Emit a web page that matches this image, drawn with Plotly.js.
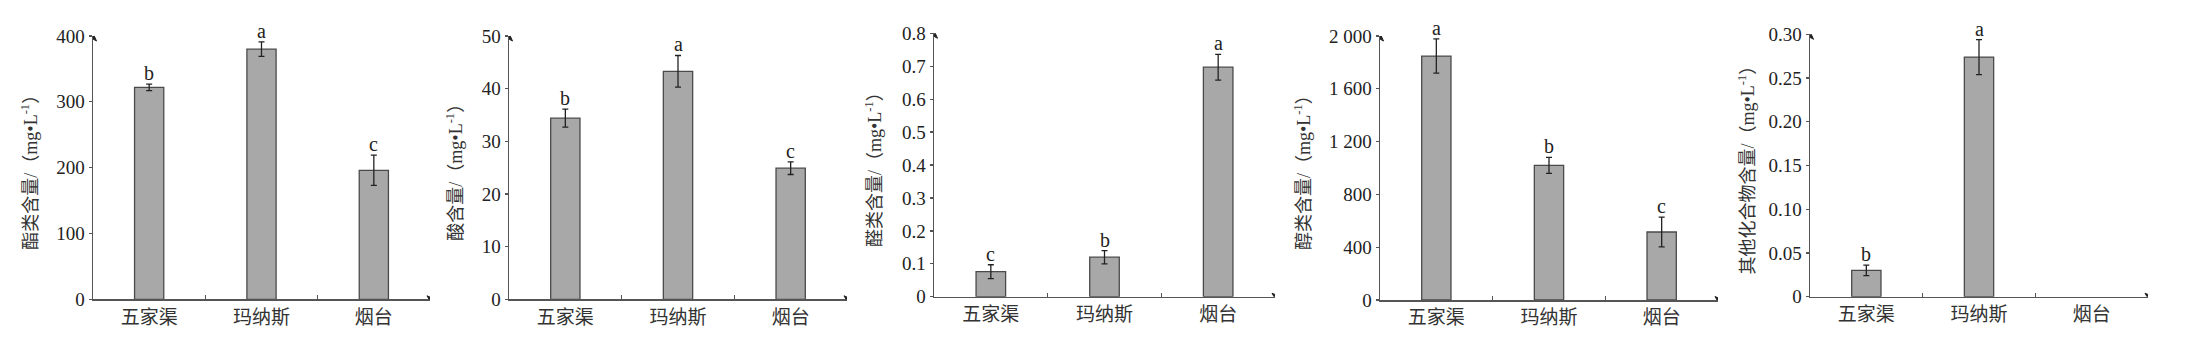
<!DOCTYPE html>
<html>
<head>
<meta charset="utf-8">
<script src="https://cdn.plot.ly/plotly-3.0.1.min.js"></script>
<style>html,body{margin:0;padding:0;background:#fff;}#chart{width:2187px;height:356px;}</style>
</head>
<body>
<div id="chart"></div>
<script>
// ---- data ----
const categories = ["五家渠", "玛纳斯", "烟台"];

const esterValues = [322, 380, 196];
const esterErrors = [5, 11, 23];
const esterLetters = ["b", "a", "c"];

const acidValues = [34.4, 43.3, 24.9];
const acidErrors = [1.7, 3.0, 1.2];
const acidLetters = ["b", "a", "c"];

const aldehydeValues = [0.076, 0.12, 0.697];
const aldehydeErrors = [0.021, 0.02, 0.039];
const aldehydeLetters = ["c", "b", "a"];

const alcoholValues = [1848, 1020, 515];
const alcoholErrors = [130, 60, 113];
const alcoholLetters = ["a", "b", "c"];

const otherValues = [0.030, 0.274, null];
const otherErrors = [0.006, 0.02, null];
const otherLetters = ["b", "a", ""];

const yTitles = [
  "酯类含量/（mg•L<sup>-1</sup>）",
  "酸含量/（mg•L<sup>-1</sup>）",
  "醛类含量/（mg•L<sup>-1</sup>）",
  "醇类含量/（mg•L<sup>-1</sup>）",
  "其他化合物含量/（mg•L<sup>-1</sup>）"
];
const yTickVals = [
  [0, 100, 200, 300, 400],
  [0, 10, 20, 30, 40, 50],
  [0, 0.1, 0.2, 0.3, 0.4, 0.5, 0.6, 0.7, 0.8],
  [0, 400, 800, 1200, 1600, 2000],
  [0, 0.05, 0.10, 0.15, 0.20, 0.25, 0.30]
];
const yTickText = [
  ["0", "100", "200", "300", "400"],
  ["0", "10", "20", "30", "40", "50"],
  ["0", "0.1", "0.2", "0.3", "0.4", "0.5", "0.6", "0.7", "0.8"],
  ["0", "400", "800", "1 200", "1 600", "2 000"],
  ["0", "0.05", "0.10", "0.15", "0.20", "0.25", "0.30"]
];
const yMax = [400, 50, 0.8, 2000, 0.30];

// ---- layout geometry (pixels in 2187x356) ----
const W = 2187, H = 356;
const panels = [
  {x0: 93, x1: 430, yb: 299.3, yt: 36, tx: 30},
  {x0: 509, x1: 847, yb: 299.3, yt: 36, tx: 455},
  {x0: 934, x1: 1275, yb: 296.7, yt: 33.3, tx: 873},
  {x0: 1380, x1: 1718, yb: 300, yt: 36, tx: 1302},
  {x0: 1810, x1: 2148, yb: 296.7, yt: 34.3, tx: 1747}
];

const series = [
  [esterValues, esterErrors, esterLetters],
  [acidValues, acidErrors, acidLetters],
  [aldehydeValues, aldehydeErrors, aldehydeLetters],
  [alcoholValues, alcoholErrors, alcoholLetters],
  [otherValues, otherErrors, otherLetters]
];

const serif = "'Liberation Serif', 'DejaVu Serif', serif";
const mixed = "'Liberation Serif', 'Noto Sans CJK SC', serif";
const axisColor = "#555";

const traces = [];
const layout = {
  width: W, height: H,
  margin: {l: 0, r: 0, t: 0, b: 0},
  paper_bgcolor: "#fff", plot_bgcolor: "#fff",
  showlegend: false,
  annotations: [],
  shapes: [],
  font: {family: serif, color: "#222", size: 19}
};

series.forEach((s, i) => {
  const n = i + 1;
  const xa = "x" + (n === 1 ? "" : n);
  const ya = "y" + (n === 1 ? "" : n);
  const p = panels[i];
  traces.push({
    type: "bar",
    x: categories,
    y: s[0],
    xaxis: xa, yaxis: ya,
    width: 0.26,
    marker: {color: "#a8a8a8", line: {color: "#4a4a4a", width: 1.3}},
    error_y: {type: "data", array: s[1], visible: true, color: "#222", thickness: 1.3, width: 3},
    hoverinfo: "skip"
  });
  const xKey = "xaxis" + (n === 1 ? "" : n);
  const yKey = "yaxis" + (n === 1 ? "" : n);
  layout[xKey] = {
    domain: [p.x0 / W, p.x1 / W],
    anchor: ya,
    type: "category",
    range: [-0.5, 2.5],
    showline: true, linecolor: axisColor, linewidth: 1.5,
    showgrid: false, zeroline: false,
    ticks: "inside", tickson: "boundaries", ticklen: 4, tickcolor: axisColor, tickwidth: 1.5,
    tickfont: {family: mixed, size: 19, color: "#333"},
    fixedrange: true
  };
  layout[yKey] = {
    domain: [(H - p.yb) / H, (H - p.yt) / H],
    anchor: xa,
    range: [0, yMax[i]],
    showline: true, linecolor: axisColor, linewidth: 1.5,
    showgrid: false, zeroline: false,
    ticks: "outside", ticklen: 3, tickcolor: axisColor, tickwidth: 1.3,
    tickvals: yTickVals[i], ticktext: yTickText[i],
    tickfont: {family: serif, size: 19, color: "#222"},
    automargin: false,
    fixedrange: true
  };
  // y axis title (rotated)
  layout.annotations.push({
    xref: "paper", yref: "paper",
    x: p.tx / W, y: (H - (p.yb + p.yt) / 2) / H,
    xanchor: "center", yanchor: "middle",
    textangle: -90, showarrow: false,
    text: yTitles[i],
    font: {family: mixed, size: 18, color: "#333"}
  });
  // significance letters
  categories.forEach((c, k) => {
    if (s[0][k] === null || !s[2][k]) return;
    layout.annotations.push({
      xref: xa, yref: ya, x: c, y: s[0][k] + s[1][k],
      text: s[2][k], showarrow: false, yanchor: "bottom", yshift: -2,
      font: {family: serif, size: 20, color: "#222"}
    });
  });
  // axis arrow heads (pixel-sized shapes anchored at axis ends)
  layout.shapes.push({
    type: "path", xref: xa, yref: ya,
    xsizemode: "pixel", ysizemode: "pixel", xanchor: -0.5, yanchor: yMax[i],
    path: "M -3.5 -5 L 0 3 L 3.5 -5 L 0 -3 Z",
    fillcolor: "#222", line: {color: "#222", width: 1}
  });
  layout.shapes.push({
    type: "path", xref: xa, yref: ya,
    xsizemode: "pixel", ysizemode: "pixel", xanchor: 2.5, yanchor: 0,
    path: "M -3 -3.5 L 5 0 L -3 3.5 L -1 0 Z",
    fillcolor: "#222", line: {color: "#222", width: 1}
  });
});

Plotly.newPlot("chart", traces, layout, {staticPlot: true});
</script>
</body>
</html>
